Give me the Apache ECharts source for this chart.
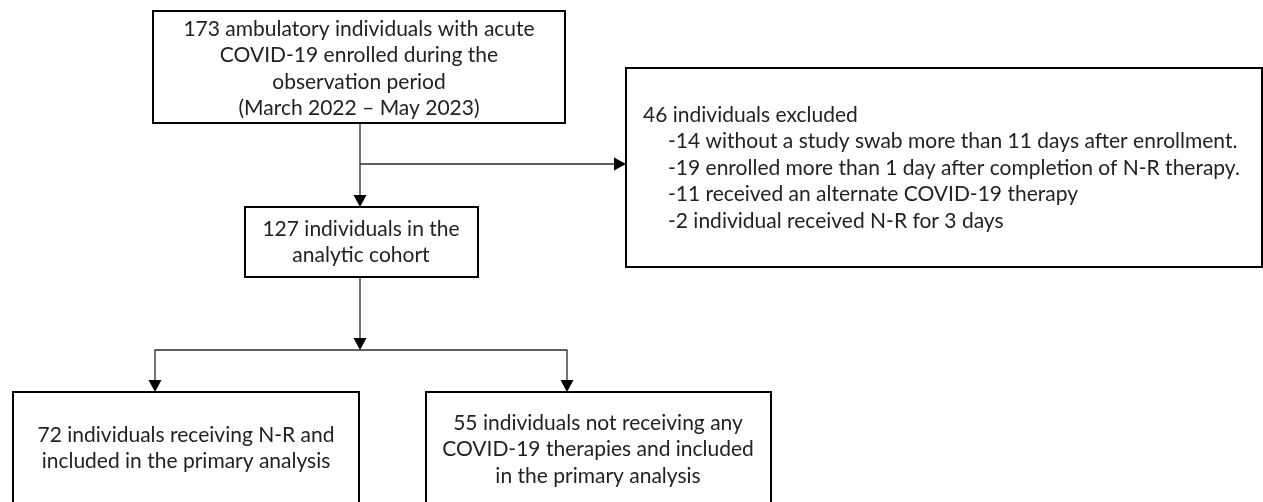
<!DOCTYPE html>
<html>
<head>
<meta charset="utf-8">
<script src="https://cdn.jsdelivr.net/npm/echarts/dist/echarts.min.js"></script>
<style>
html,body{margin:0;padding:0;background:#ffffff;}
#chart{width:1263px;height:502px;}
</style>
</head>
<body>
<div id="chart"></div>
<script>
// ---------------- data (texts / counts) ----------------
const enrolledLines = ["173 ambulatory individuals with acute", "COVID-19 enrolled during the", "observation period", "(March 2022 \u2013 May 2023)"];
const cohortLines = ["127 individuals in the", "analytic cohort"];
const excludedHeader = ["46 individuals excluded"];
const excludedReasons = [
  "-14 without a study swab more than 11 days after enrollment.",
  "-19 enrolled more than 1 day after completion of N-R therapy.",
  "-11 received an alternate COVID-19 therapy",
  "-2 individual received N-R for 3 days"
];
const nrLines = ["72 individuals receiving N-R and", "included in the primary analysis"];
const noTherapyLines = ["55 individuals not receiving any", "COVID-19 therapies and included", "in the primary analysis"];

// ---------------- layout (pixel space of a 1263x502 canvas) ----------------
const FONT_FAMILY = 'Lato, "Open Sans", sans-serif';
const FONT_SIZE = 21;
const LINE_GAP = 26.5;

const boxLayout = [
  { x0: 153, y0: 11, x1: 565, y1: 123, blocks: [{ lines: enrolledLines, x: 359, y: 29, align: 'center' }] },
  { x0: 245, y0: 207, x1: 478, y1: 277, blocks: [{ lines: cohortLines, x: 361, y: 229, align: 'center' }] },
  { x0: 626, y0: 68, x1: 1262, y1: 267, blocks: [
      { lines: excludedHeader, x: 643, y: 115, align: 'left' },
      { lines: excludedReasons, x: 668, y: 141.5, align: 'left' }
  ] },
  { x0: 13, y0: 392, x1: 359, y1: 520, blocks: [{ lines: nrLines, x: 186, y: 435, align: 'center' }] },
  { x0: 426, y0: 392, x1: 771, y1: 520, blocks: [{ lines: noTherapyLines, x: 598, y: 423, align: 'center' }] }
];

const connectorLayout = [
  { pts: [[360, 123], [360, 207]], arrow: true },
  { pts: [[360, 164], [626, 164]], arrow: true },
  { pts: [[360, 277], [360, 350]], arrow: true },
  { pts: [[360, 350], [155, 350], [155, 392]], arrow: true },
  { pts: [[360, 350], [567, 350], [567, 392]], arrow: true }
];

const chart = echarts.init(document.getElementById('chart'), null, { renderer: 'canvas' });

function boxRender(params, api) {
  const b = boxLayout[params.dataIndex];
  const p0 = api.coord([b.x0, b.y0]);
  const p1 = api.coord([b.x1, b.y1]);
  const children = [{
    type: 'rect',
    shape: { x: p0[0], y: p0[1], width: p1[0] - p0[0], height: p1[1] - p0[1] },
    style: { fill: '#ffffff', stroke: '#000000', lineWidth: 2 }
  }];
  b.blocks.forEach(function (blk) {
    blk.lines.forEach(function (t, i) {
      const pt = api.coord([blk.x, blk.y + i * LINE_GAP]);
      children.push({
        type: 'text',
        x: pt[0], y: pt[1],
        style: {
          text: t,
          fill: '#222222',
          fontSize: FONT_SIZE,
          fontFamily: FONT_FAMILY,
          align: blk.align,
          verticalAlign: 'middle'
        }
      });
    });
  });
  return { type: 'group', children: children };
}

function connectorRender(params, api) {
  const c = connectorLayout[params.dataIndex];
  const pts = c.pts.map(function (p) { return api.coord(p); });
  const children = [];
  const n = pts.length;
  const last = pts[n - 1], prev = pts[n - 2];
  const dx = last[0] - prev[0], dy = last[1] - prev[1];
  const len = Math.sqrt(dx * dx + dy * dy);
  const ux = dx / len, uy = dy / len;
  const AL = 12, AW = 6.5;
  const base = [last[0] - ux * AL, last[1] - uy * AL];
  const linePts = pts.slice(0, n - 1).concat([base]);
  children.push({
    type: 'polyline',
    shape: { points: linePts },
    style: { stroke: '#2a2a2a', lineWidth: 1.3, fill: null }
  });
  if (c.arrow) {
    children.push({
      type: 'polygon',
      shape: { points: [last, [base[0] - uy * AW, base[1] + ux * AW], [base[0] + uy * AW, base[1] - ux * AW]] },
      style: { fill: '#000000' }
    });
  }
  return { type: 'group', children: children };
}

chart.setOption({
  animation: false,
  backgroundColor: '#ffffff',
  grid: { left: 0, right: 0, top: 0, bottom: 0 },
  xAxis: { type: 'value', min: 0, max: 1263, show: false },
  yAxis: { type: 'value', min: 0, max: 502, inverse: true, show: false },
  series: [
    {
      type: 'custom',
      renderItem: connectorRender,
      clip: false,
      data: connectorLayout.map(function (c) { return [c.pts[0][0], c.pts[0][1]]; }),
      silent: true
    },
    {
      type: 'custom',
      renderItem: boxRender,
      clip: false,
      data: boxLayout.map(function (b) { return [b.x0, b.y0]; }),
      silent: true
    }
  ]
});
</script>
</body>
</html>
